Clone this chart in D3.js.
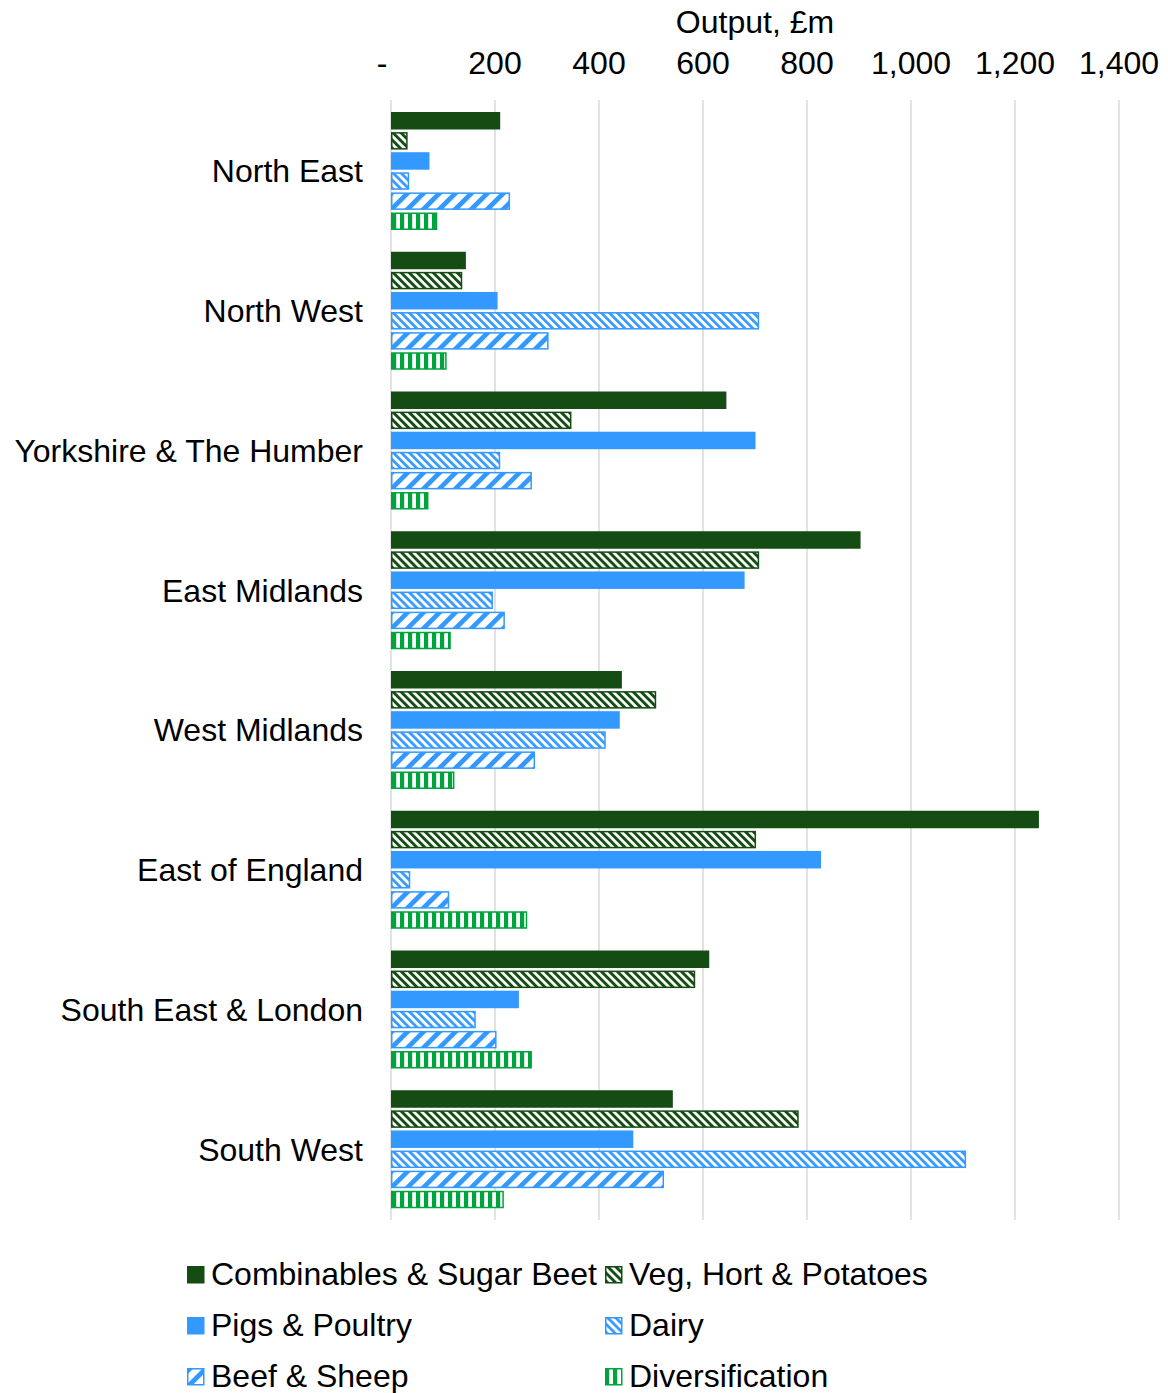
<html>
<head>
<meta charset="utf-8">
<style>
body{
  margin:0;
  padding:0;
  background-color: white;
  font-family: 'Liberation Sans', Arial, sans-serif;
}
</style>
</head>
<body>
<div id="chart"></div>
<script src="https://cdn.jsdelivr.net/npm/d3@7"></script>
<script>
//========== DATA =============
var regions = ["North East","North West","Yorkshire & The Humber","East Midlands","West Midlands","East of England","South East & London","South West"];
var series = ["Combinables & Sugar Beet","Veg, Hort & Potatoes","Pigs & Poultry","Dairy","Beef & Sheep","Diversification"];

var combinables = [210, 144, 645, 903, 444, 1246, 612, 542];
var vegHort     = [32, 137, 347, 708, 510, 702, 585, 784];
var pigsPoultry = [74, 205, 701, 680, 440, 827, 246, 466];
var dairy       = [35, 708, 210, 196, 413, 37, 163, 1106];
var beefSheep   = [229, 303, 271, 219, 277, 112, 203, 525];
var diversif    = [89, 107, 72, 115, 122, 262, 271, 217];

var xTicks = [0, 200, 400, 600, 800, 1000, 1200, 1400];

var allValues = [combinables, vegHort, pigsPoultry, dairy, beefSheep, diversif];

//========== SVG VIEW =============
var width = 1168, height = 1393;
var svg = d3.select("#chart").append("svg")
    .attr("width", width).attr("height", height);

var darkGreen = "#144c14", blue = "#3399ff", green = "#00a33d";

var defs = svg.append("defs");

// stripes pattern : period, stripe width, angle, colour
const stripes = (id, period, w, angle, fg) => {
  var p = defs.append("pattern")
      .attr("id", id)
      .attr("patternUnits", "userSpaceOnUse")
      .attr("width", period).attr("height", period)
      .attr("patternTransform", "rotate(" + angle + ")");
  p.append("rect").attr("width", period).attr("height", period).attr("fill", "white");
  p.append("rect").attr("width", w).attr("height", period).attr("fill", fg);
}

stripes("pVeg", 5.66, 2.9, -45, darkGreen);
stripes("pDairy", 5.66, 2.7, -45, blue);
stripes("pBeef", 11.3, 4.8, 45, blue);
stripes("pDiv", 8, 4.2, 0, green);

// how each series is drawn
var fills   = [darkGreen, "url(#pVeg)", blue, "url(#pDairy)", "url(#pBeef)", "url(#pDiv)"];
var strokes = [null, darkGreen, null, blue, blue, green];

//========== SCALES ============
var x = d3.scaleLinear().domain([0, 1400]).range([391, 1119]);

var y0 = d3.scaleBand().domain(regions).range([102, 1220]);
var y1 = d3.scaleBand().domain(series).range([10, 128]).paddingInner(0.13);

// gridlines
svg.append("g").selectAll("line")
  .data(xTicks)
  .enter().append("line")
    .attr("x1", d => x(d)).attr("x2", d => x(d))
    .attr("y1", 100).attr("y2", 1220)
    .attr("stroke", "#d9d9d9")
    .attr("stroke-width", 1.5);

// top axis labels
svg.append("g").selectAll("text")
  .data(xTicks)
  .enter().append("text")
    .attr("x", d => d === 0 ? x(d) - 9 : x(d))
    .attr("y", 74)
    .attr("text-anchor", "middle")
    .attr("font-size", 32)
    .attr("fill", "black")
    .text(d => d === 0 ? "-" : d3.format(",")(d));

svg.append("text")
    .attr("x", (x(0) + x(1400)) / 2)
    .attr("y", 33)
    .attr("text-anchor", "middle")
    .attr("font-size", 32)
    .attr("fill", "black")
    .text("Output, £m");

// category labels
svg.append("g").selectAll("text")
  .data(regions)
  .enter().append("text")
    .attr("x", 363)
    .attr("y", d => y0(d) + y0.bandwidth() / 2)
    .attr("dy", "0.33em")
    .attr("text-anchor", "end")
    .attr("font-size", 32)
    .attr("fill", "black")
    .text(d => d);

//========== BARS ============
var groups = svg.append("g").selectAll("g")
  .data(regions)
  .enter().append("g")
    .attr("transform", d => "translate(0," + y0(d) + ")");

groups.selectAll("rect")
  .data((r, ri) => series.map((s, si) => ({s: s, si: si, v: allValues[si][ri]})))
  .enter().append("rect")
    .attr("x", d => strokes[d.si] ? x(0) + 0.75 : x(0))
    .attr("y", d => strokes[d.si] ? y1(d.s) + 0.75 : y1(d.s))
    .attr("width", d => strokes[d.si] ? x(d.v) - x(0) - 1.5 : x(d.v) - x(0))
    .attr("height", d => strokes[d.si] ? y1.bandwidth() - 1.5 : y1.bandwidth())
    .attr("fill", d => fills[d.si])
    .attr("stroke", d => strokes[d.si])
    .attr("stroke-width", 1.5);

//========== LEGEND ============
var legendPos = [[187, 1266], [605, 1266], [187, 1317], [605, 1317], [187, 1368], [605, 1368]];

var legend = svg.append("g").selectAll("g")
  .data(series)
  .enter().append("g")
    .attr("transform", (d, i) => "translate(" + legendPos[i][0] + "," + legendPos[i][1] + ")");

legend.append("rect")
    .attr("x", (d, i) => strokes[i] ? 0.75 : 0)
    .attr("y", (d, i) => strokes[i] ? 0.75 : 0)
    .attr("width", (d, i) => strokes[i] ? 16 : 17.5)
    .attr("height", (d, i) => strokes[i] ? 16 : 17.5)
    .attr("fill", (d, i) => fills[i])
    .attr("stroke", (d, i) => strokes[i])
    .attr("stroke-width", 1.5);

legend.append("text")
    .attr("x", 24)
    .attr("y", 19)
    .attr("font-size", 32)
    .attr("fill", "black")
    .text(d => d);
</script>
</body>
</html>
